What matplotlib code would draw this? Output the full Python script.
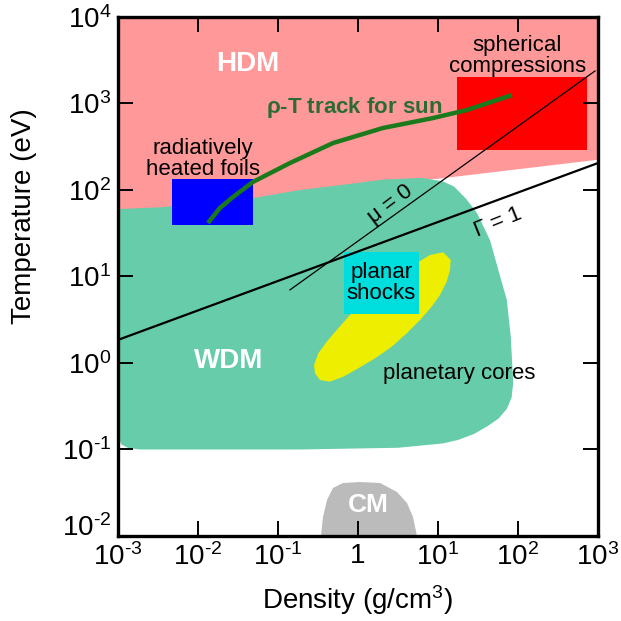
import numpy as np
import matplotlib
matplotlib.use('Agg')
import matplotlib.pyplot as plt
from matplotlib.ticker import FixedLocator, FixedFormatter, NullLocator
from matplotlib.transforms import ScaledTranslation

plt.rcParams['font.family'] = ['Liberation Sans', 'DejaVu Sans']
plt.rcParams['mathtext.fontset'] = 'custom'
plt.rcParams['mathtext.rm'] = 'Liberation Sans'
plt.rcParams['mathtext.it'] = 'Liberation Sans:italic'

# ---------------- data (log10 of density g/cm3, log10 of temperature eV) -------------
hdm_logrho = [-3.0, 3.0, 3.0, 1.0, 0.31, -0.1, -0.725, -1.35, -1.975, -2.475, -3.0]
hdm_logT = [4.0, 4.0, 2.35, 2.13, 2.08, 2.03, 1.96, 1.86, 1.80, 1.76, 1.74]

wdm_logrho = [-3.0, -2.475, -1.975, -1.35, -0.725, -0.1, 0.31, 0.8, 1.06, 1.2, 1.35,
              1.49, 1.65, 1.78, 1.86, 1.91, 1.94, 1.92, 1.86, 1.76, 1.62, 1.45, 1.25,
              1.06, 0.5, -0.73, -2.0, -2.73, -2.88, -2.96, -2.99, -3.0]
wdm_logT = [1.78, 1.80, 1.84, 1.90, 2.0, 2.07, 2.12, 2.14, 2.10, 2.04, 1.90,
            1.73, 1.42, 0.99, 0.73, 0.3, -0.23, -0.40, -0.53, -0.64, -0.73, -0.82, -0.89,
            -0.93, -0.98, -1.0, -1.0, -1.0, -0.98, -0.94, -0.87, -0.66]

cm_logrho = [-0.4625, -0.4375, -0.3875, -0.3125, -0.1875, 0.025, 0.275, 0.4875, 0.6125, 0.6875, 0.7375]
cm_logT = [-2.0, -1.78, -1.584, -1.445, -1.387, -1.376, -1.387, -1.491, -1.618, -1.78, -2.0]

cores_logrho = [1.066, 1.159, 1.15, 1.109, 1.025, 0.921, 0.775, 0.609, 0.421, 0.2125, 0.004,
                -0.184, -0.35, -0.475, -0.5375, -0.55, -0.496, -0.391, -0.266, -0.1, 0.316,
                0.7625, 0.9]
cores_logT = [1.280, 1.191, 1.075, 0.940, 0.786, 0.651, 0.497, 0.343, 0.188, 0.054, -0.061,
              -0.158, -0.216, -0.197, -0.119, -0.023, 0.112, 0.246, 0.382, 0.555, 0.882,
              1.171, 1.249]

# rectangles: (rho_min, rho_max, T_min, T_max)
foils_box = (0.0047, 0.049, 39.0, 134.0)
spherical_box = (17.3, 729.0, 290.0, 2020.0)
planar_box = (0.67, 5.8, 3.7, 19.2)

sun_rho = [0.0133, 0.0188, 0.0274, 0.0487, 0.141, 0.487, 2.05, 8.66, 23.0, 84.0]
sun_T = [41.6, 62.0, 83.0, 124.0, 205.0, 349.0, 521.0, 679.0, 841.0, 1253.0]

gamma_rho = [1e-3, 1e3]
gamma_T = [1.85, 205.0]

mu_rho = [0.141, 917.0]
mu_T = [7.0, 2377.0]

xtick_vals = [1e-3, 1e-2, 1e-1, 1, 1e1, 1e2, 1e3]
xtick_labels = [r'$\mathregular{10^{\text{-}3}}$', r'$\mathregular{10^{\text{-}2}}$',
                r'$\mathregular{10^{\text{-}1}}$', '1', r'$\mathregular{10^{1}}$',
                r'$\mathregular{10^{2}}$', r'$\mathregular{10^{3}}$']
ytick_vals = [1e-2, 1e-1, 1, 1e1, 1e2, 1e3, 1e4]
ytick_labels = [r'$\mathregular{10^{\text{-}2}}$', r'$\mathregular{10^{\text{-}1}}$',
                r'$\mathregular{10^{0}}$', r'$\mathregular{10^{1}}$', r'$\mathregular{10^{2}}$',
                r'$\mathregular{10^{3}}$', r'$\mathregular{10^{4}}$']

# ---------------- figure ----------------
fig = plt.figure(figsize=(6.21, 6.21), dpi=100)
ax = fig.add_axes([118 / 621, 1 - 536 / 621, 480 / 621, 519 / 621])
ax.set_xscale('log')
ax.set_yscale('log')
ax.set_xlim(1e-3, 1e3)
ax.set_ylim(1e-2, 1e4)

PINK = '#FF9999'
GREEN = '#66CCAA'

ax.fill(10 ** np.array(hdm_logrho), 10 ** np.array(hdm_logT), color=PINK, lw=0, zorder=1)
ax.fill(10 ** np.array(wdm_logrho), 10 ** np.array(wdm_logT), color=GREEN, lw=0, zorder=1.1)
ax.fill(10 ** np.array(cm_logrho), 10 ** np.array(cm_logT), color='#BBBBBB', lw=0, zorder=1.1)
ax.fill(10 ** np.array(cores_logrho), 10 ** np.array(cores_logT), color='#EEEE00', lw=0, zorder=1.2)


def box(b, color):
    x0, x1, y0, y1 = b
    ax.fill([x0, x1, x1, x0], [y0, y0, y1, y1], color=color, lw=0, zorder=1.3)


box(foils_box, '#0000FF')
box(spherical_box, '#FF0000')
box(planar_box, '#00DDDD')

ax.plot(gamma_rho, gamma_T, color='black', lw=1.6, zorder=2)
ax.plot(mu_rho, mu_T, color='black', lw=0.9, zorder=2)
ax.plot(sun_rho, sun_T, color='#1B7A1B', lw=3.2, solid_capstyle='butt', zorder=2.2)

# ---------------- labels ----------------
def L(lx, ly):
    return 10 ** lx, 10 ** ly


ax.text(*L(-1.375, 3.46), 'HDM', color='white', fontsize=20, fontweight='bold', ha='center', va='center')
ax.text(*L(-1.6125, 0.023), 'WDM', color='white', fontsize=20, fontweight='bold', ha='center', va='center')
ax.text(*L(0.125, -1.64), 'CM', color='white', fontsize=19, fontweight='bold', ha='center', va='center')
ax.text(*L(-0.05, 2.948), r'$\mathregular{\rho}$-T track for sun', color='#2D6B35', fontsize=16,
        fontweight='bold', ha='center', va='center')
ax.text(*L(-1.94, 2.358), 'radiatively\nheated foils', fontsize=16, ha='center', va='center',
        linespacing=0.95)
ax.text(*L(1.99, 3.55), 'spherical\ncompressions', fontsize=16, ha='center', va='center',
        linespacing=0.95)
ax.text(*L(0.29, 0.925), 'planar\nshocks', fontsize=16, ha='center', va='center', linespacing=0.95)
ax.text(*L(1.2625, -0.127), 'planetary cores', fontsize=16, ha='center', va='center')
ax.text(*L(0.4, 1.827), r'$\mathregular{\mu}$ = 0', fontsize=16, ha='center', va='center',
        rotation=37, rotation_mode='anchor')
ax.text(*L(1.75, 1.63), r'$\mathregular{\Gamma}$ = 1', fontsize=16, ha='center', va='center',
        rotation=22, rotation_mode='anchor')

# ---------------- axes styling ----------------
ax.xaxis.set_major_locator(FixedLocator(xtick_vals))
ax.xaxis.set_major_formatter(FixedFormatter(xtick_labels))
ax.yaxis.set_major_locator(FixedLocator(ytick_vals))
ax.yaxis.set_major_formatter(FixedFormatter(ytick_labels))
ax.xaxis.set_minor_locator(NullLocator())
ax.yaxis.set_minor_locator(NullLocator())
ax.tick_params(which='major', direction='in', length=11, width=1.4, labelsize=20,
               top=True, right=True, pad=5)
for s in ax.spines.values():
    s.set_linewidth(2.4)
    s.set_zorder(3)

# lift the lowest y tick label slightly so it clears the x tick labels
fig.canvas.draw()
lowest = ax.yaxis.get_majorticklabels()[0]
lowest.set_transform(lowest.get_transform() + ScaledTranslation(0, 8 / 72, fig.dpi_scale_trans))

ax.text(-0.196, 0.617, 'Temperature (eV)', transform=ax.transAxes, rotation=90,
        fontsize=20, ha='center', va='center')
ax.text(0.5, -0.123, r'Density (g/cm$\mathregular{^{3}}$)', transform=ax.transAxes,
        fontsize=20, ha='center', va='center')

fig.savefig('out.png', dpi=100)
